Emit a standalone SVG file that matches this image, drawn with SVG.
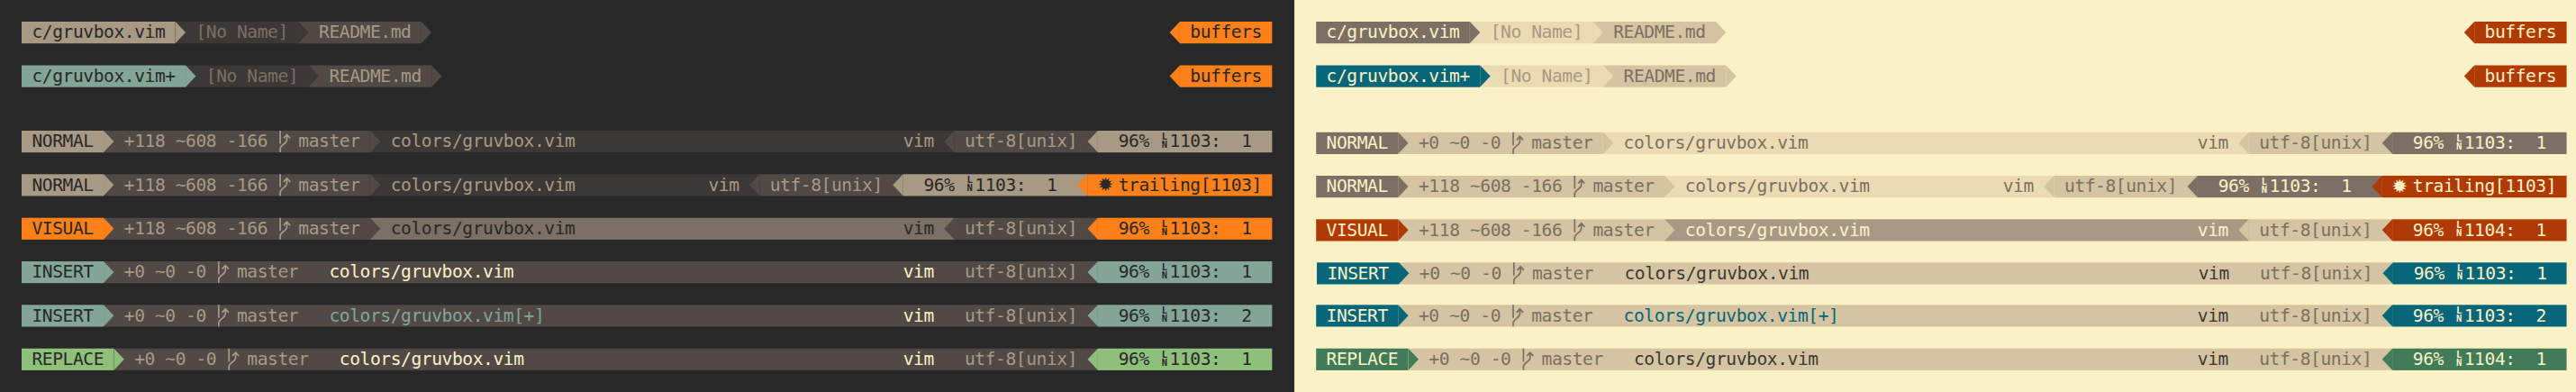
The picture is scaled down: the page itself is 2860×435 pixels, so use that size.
<svg xmlns="http://www.w3.org/2000/svg" width="2860" height="435" viewBox="0 0 2860 435">
<style>
text{font-family:"DejaVu Sans Mono","Liberation Mono",monospace;font-size:19.6px;letter-spacing:-0.42px;white-space:pre}
text.ln{font-size:10.5px;font-weight:bold}
text.sun{font-family:"DejaVu Sans",sans-serif;font-size:21px}
.k{fill:#282828}.g1{fill:#3c3836}.g2{fill:#504945}.g3{fill:#7c6f64}.g4{fill:#a89984}.c{fill:#fbf1c7}
.o{fill:#fe8019}.b{fill:#83a598}.v{fill:#8ec07c}.e{fill:#ebdbb2}.d{fill:#d5c4a1}.r{fill:#af3a03}.t{fill:#076678}.n{fill:#427b58}
.id{stroke:#a89984}.il{stroke:#7c6f64}
</style>
<defs>
<polygon id="cr" points="0,0 11.38,12 0,24"/>
<polygon id="cl" points="11.38,0 0,12 11.38,24"/>
<g id="br" fill="none" stroke-width="1.7"><path d="M2.6 0V14.5M2.6 24V20C2.6 15.5 10 15 10 10V5M6.3 8.5L10 4.5L13.7 8.5"/></g>
</defs>
<rect width="1437.3" height="435" class="k"/>
<rect x="1437.3" width="1422.7" height="435" class="c"/>

<g id="dark-tab-1" transform="translate(24,24)">
<rect width="170.7" height="24.2" class="g4"/><rect x="170.7" width="136.56" height="24.2" class="g1"/><rect x="307.26" width="136.56" height="24.2" class="g2"/>
<use href="#cr" x="170.7" class="g4"/><use href="#cr" x="307.26" class="g1"/><use href="#cr" x="443.82" class="g2"/>
<text x="11.38" y="18.3" class="k">c/gruvbox.vim</text><text x="193.46" y="18.3" class="g3">[No Name]</text><text x="330.02" y="18.3" class="g4">README.md</text>
</g>
<g id="dark-buffers-1" transform="translate(24,24)">
<rect x="1285.94" width="102.42" height="24.2" class="o"/><use href="#cl" x="1274.56" class="o"/>
<text x="1297.32" y="18.3" class="k">buffers</text>
</g>
<g id="dark-tab-2" transform="translate(24,72.5)">
<rect width="182.08" height="24.2" class="b"/><rect x="182.08" width="136.56" height="24.2" class="g1"/><rect x="318.64" width="136.56" height="24.2" class="g2"/>
<use href="#cr" x="182.08" class="b"/><use href="#cr" x="318.64" class="g1"/><use href="#cr" x="455.2" class="g2"/>
<text x="11.38" y="18.3" class="k">c/gruvbox.vim+</text><text x="204.84" y="18.3" class="g3">[No Name]</text><text x="341.4" y="18.3" class="g4">README.md</text>
</g>
<g id="dark-buffers-2" transform="translate(24,72.5)">
<rect x="1285.94" width="102.42" height="24.2" class="o"/><use href="#cl" x="1274.56" class="o"/>
<text x="1297.32" y="18.3" class="k">buffers</text>
</g>

<g id="dark-normal-1" transform="translate(24,145)">
<rect width="91.04" height="24.2" class="g4"/><rect x="91.04" width="295.88" height="24.2" class="g2"/><rect x="386.92" width="648.66" height="24.2" class="g1"/><rect x="1035.58" width="159.32" height="24.2" class="g2"/><rect x="1194.9" width="193.46" height="24.2" class="g4"/>
<use href="#cr" x="91.04" class="g4"/><use href="#cr" x="386.92" class="g2"/><use href="#cl" x="1024.2" class="g2"/><use href="#cl" x="1183.52" class="g4"/>
<text x="11.38" y="18.3" class="k">NORMAL</text><text x="113.8" y="18.3" class="g4">+118 ~608 -166</text><use href="#br" x="284.5" class="id"/><text x="307.26" y="18.3" class="g4">master</text><text x="409.68" y="18.3" class="g4">colors/gruvbox.vim</text>
<text x="978.68" y="18.3" class="g4">vim</text><text x="1046.96" y="18.3" class="g4">utf-8[unix]</text><text x="1217.66" y="18.3" class="k">96%</text><text x="1265.8" y="10" class="ln k">L</text><text x="1265.8" y="19" class="ln k">N</text><text x="1274.56" y="18.3" class="k">1103:  1</text>
</g>
<g id="dark-normal-2" transform="translate(24,193.3)">
<rect width="91.04" height="24.2" class="g4"/><rect x="91.04" width="295.88" height="24.2" class="g2"/><rect x="386.92" width="432.44" height="24.2" class="g1"/><rect x="819.36" width="159.32" height="24.2" class="g2"/><rect x="978.68" width="204.84" height="24.2" class="g4"/><rect x="1183.52" width="204.84" height="24.2" class="o"/>
<use href="#cr" x="91.04" class="g4"/><use href="#cr" x="386.92" class="g2"/><use href="#cl" x="807.98" class="g2"/><use href="#cl" x="967.3" class="g4"/><use href="#cl" x="1172.14" class="o"/>
<text x="11.38" y="18.3" class="k">NORMAL</text><text x="113.8" y="18.3" class="g4">+118 ~608 -166</text><use href="#br" x="284.5" class="id"/><text x="307.26" y="18.3" class="g4">master</text><text x="409.68" y="18.3" class="g4">colors/gruvbox.vim</text>
<text x="762.46" y="18.3" class="g4">vim</text><text x="830.74" y="18.3" class="g4">utf-8[unix]</text><text x="1001.44" y="18.3" class="k">96%</text><text x="1049.6" y="10" class="ln k">L</text><text x="1049.6" y="19" class="ln k">N</text><text x="1058.34" y="18.3" class="k">1103:  1</text><text x="1194.4" y="19" class="sun k">✹</text><text x="1217.66" y="18.3" class="k">trailing[1103]</text>
</g>
<g id="dark-visual" transform="translate(24,241.7)">
<rect width="91.04" height="24.2" class="o"/><rect x="91.04" width="295.88" height="24.2" class="g2"/><rect x="386.92" width="648.66" height="24.2" class="g3"/><rect x="1035.58" width="159.32" height="24.2" class="g2"/><rect x="1194.9" width="193.46" height="24.2" class="o"/>
<use href="#cr" x="91.04" class="o"/><use href="#cr" x="386.92" class="g2"/><use href="#cl" x="1024.2" class="g2"/><use href="#cl" x="1183.52" class="o"/>
<text x="11.38" y="18.3" class="k">VISUAL</text><text x="113.8" y="18.3" class="g4">+118 ~608 -166</text><use href="#br" x="284.5" class="id"/><text x="307.26" y="18.3" class="g4">master</text><text x="409.68" y="18.3" class="k">colors/gruvbox.vim</text>
<text x="978.68" y="18.3" class="k">vim</text><text x="1046.96" y="18.3" class="g4">utf-8[unix]</text><text x="1217.66" y="18.3" class="k">96%</text><text x="1265.8" y="10" class="ln k">L</text><text x="1265.8" y="19" class="ln k">N</text><text x="1274.56" y="18.3" class="k">1103:  1</text>
</g>
<g id="dark-insert-1" transform="translate(24,290)">
<rect width="91.04" height="24.2" class="b"/><rect x="91.04" width="1103.86" height="24.2" class="g2"/><rect x="1194.9" width="193.46" height="24.2" class="b"/>
<use href="#cr" x="91.04" class="b"/><use href="#cl" x="1183.52" class="b"/>
<text x="11.38" y="18.3" class="k">INSERT</text><text x="113.8" y="18.3" class="g4">+0 ~0 -0</text><use href="#br" x="216.22" class="id"/><text x="238.98" y="18.3" class="g4">master</text><text x="341.4" y="18.3" class="c">colors/gruvbox.vim</text>
<text x="978.68" y="18.3" class="c">vim</text><text x="1046.96" y="18.3" class="g4">utf-8[unix]</text><text x="1217.66" y="18.3" class="k">96%</text><text x="1265.8" y="10" class="ln k">L</text><text x="1265.8" y="19" class="ln k">N</text><text x="1274.56" y="18.3" class="k">1103:  1</text>
</g>
<g id="dark-insert-2" transform="translate(24,338.3)">
<rect width="91.04" height="24.2" class="b"/><rect x="91.04" width="1103.86" height="24.2" class="g2"/><rect x="1194.9" width="193.46" height="24.2" class="b"/>
<use href="#cr" x="91.04" class="b"/><use href="#cl" x="1183.52" class="b"/>
<text x="11.38" y="18.3" class="k">INSERT</text><text x="113.8" y="18.3" class="g4">+0 ~0 -0</text><use href="#br" x="216.22" class="id"/><text x="238.98" y="18.3" class="g4">master</text><text x="341.4" y="18.3" class="b">colors/gruvbox.vim[+]</text>
<text x="978.68" y="18.3" class="c">vim</text><text x="1046.96" y="18.3" class="g4">utf-8[unix]</text><text x="1217.66" y="18.3" class="k">96%</text><text x="1265.8" y="10" class="ln k">L</text><text x="1265.8" y="19" class="ln k">N</text><text x="1274.56" y="18.3" class="k">1103:  2</text>
</g>
<g id="dark-replace" transform="translate(24,386.7)">
<rect width="102.42" height="24.2" class="v"/><rect x="102.42" width="1092.48" height="24.2" class="g2"/><rect x="1194.9" width="193.46" height="24.2" class="v"/>
<use href="#cr" x="102.42" class="v"/><use href="#cl" x="1183.52" class="v"/>
<text x="11.38" y="18.3" class="k">REPLACE</text><text x="125.18" y="18.3" class="g4">+0 ~0 -0</text><use href="#br" x="227.6" class="id"/><text x="250.36" y="18.3" class="g4">master</text><text x="352.78" y="18.3" class="c">colors/gruvbox.vim</text>
<text x="978.68" y="18.3" class="c">vim</text><text x="1046.96" y="18.3" class="g4">utf-8[unix]</text><text x="1217.66" y="18.3" class="k">96%</text><text x="1265.8" y="10" class="ln k">L</text><text x="1265.8" y="19" class="ln k">N</text><text x="1274.56" y="18.3" class="k">1103:  1</text>
</g>

<g id="light-tab-1" transform="translate(1461.2,24)">
<rect width="170.7" height="24.2" class="g3"/><rect x="170.7" width="136.56" height="24.2" class="e"/><rect x="307.26" width="136.56" height="24.2" class="d"/>
<use href="#cr" x="170.7" class="g3"/><use href="#cr" x="307.26" class="e"/><use href="#cr" x="443.82" class="d"/>
<text x="11.38" y="18.3" class="c">c/gruvbox.vim</text><text x="193.46" y="18.3" class="g4">[No Name]</text><text x="330.02" y="18.3" class="g3">README.md</text>
</g>
<g id="light-buffers-1" transform="translate(1461.2,24)">
<rect x="1285.94" width="102.42" height="24.2" class="r"/><use href="#cl" x="1274.56" class="r"/>
<text x="1297.32" y="18.3" class="c">buffers</text>
</g>
<g id="light-tab-2" transform="translate(1461.2,72.5)">
<rect width="182.08" height="24.2" class="t"/><rect x="182.08" width="136.56" height="24.2" class="e"/><rect x="318.64" width="136.56" height="24.2" class="d"/>
<use href="#cr" x="182.08" class="t"/><use href="#cr" x="318.64" class="e"/><use href="#cr" x="455.2" class="d"/>
<text x="11.38" y="18.3" class="c">c/gruvbox.vim+</text><text x="204.84" y="18.3" class="g4">[No Name]</text><text x="341.4" y="18.3" class="g3">README.md</text>
</g>
<g id="light-buffers-2" transform="translate(1461.2,72.5)">
<rect x="1285.94" width="102.42" height="24.2" class="r"/><use href="#cl" x="1274.56" class="r"/>
<text x="1297.32" y="18.3" class="c">buffers</text>
</g>

<g id="light-normal-1" transform="translate(1461.2,146.8)">
<rect width="91.04" height="24.2" class="g3"/><rect x="91.04" width="227.6" height="24.2" class="d"/><rect x="318.64" width="716.94" height="24.2" class="e"/><rect x="1035.58" width="159.32" height="24.2" class="d"/><rect x="1194.9" width="193.46" height="24.2" class="g3"/>
<use href="#cr" x="91.04" class="g3"/><use href="#cr" x="318.64" class="d"/><use href="#cl" x="1024.2" class="d"/><use href="#cl" x="1183.52" class="g3"/>
<text x="11.38" y="18.3" class="c">NORMAL</text><text x="113.8" y="18.3" class="g3">+0 ~0 -0</text><use href="#br" x="216.22" class="il"/><text x="238.98" y="18.3" class="g3">master</text><text x="341.4" y="18.3" class="g3">colors/gruvbox.vim</text>
<text x="978.68" y="18.3" class="g3">vim</text><text x="1046.96" y="18.3" class="g3">utf-8[unix]</text><text x="1217.66" y="18.3" class="c">96%</text><text x="1265.8" y="10" class="ln c">L</text><text x="1265.8" y="19" class="ln c">N</text><text x="1274.56" y="18.3" class="c">1103:  1</text>
</g>
<g id="light-normal-2" transform="translate(1461.2,195)">
<rect width="91.04" height="24.2" class="g3"/><rect x="91.04" width="295.88" height="24.2" class="d"/><rect x="386.92" width="432.44" height="24.2" class="e"/><rect x="819.36" width="159.32" height="24.2" class="d"/><rect x="978.68" width="204.84" height="24.2" class="g3"/><rect x="1183.52" width="204.84" height="24.2" class="r"/>
<use href="#cr" x="91.04" class="g3"/><use href="#cr" x="386.92" class="d"/><use href="#cl" x="807.98" class="d"/><use href="#cl" x="967.3" class="g3"/><use href="#cl" x="1172.14" class="r"/>
<text x="11.38" y="18.3" class="c">NORMAL</text><text x="113.8" y="18.3" class="g3">+118 ~608 -166</text><use href="#br" x="284.5" class="il"/><text x="307.26" y="18.3" class="g3">master</text><text x="409.68" y="18.3" class="g3">colors/gruvbox.vim</text>
<text x="762.46" y="18.3" class="g3">vim</text><text x="830.74" y="18.3" class="g3">utf-8[unix]</text><text x="1001.44" y="18.3" class="c">96%</text><text x="1049.6" y="10" class="ln c">L</text><text x="1049.6" y="19" class="ln c">N</text><text x="1058.34" y="18.3" class="c">1103:  1</text><text x="1194.4" y="19" class="sun c">✹</text><text x="1217.66" y="18.3" class="c">trailing[1103]</text>
</g>
<g id="light-visual" transform="translate(1461.2,243.3)">
<rect width="91.04" height="24.2" class="r"/><rect x="91.04" width="295.88" height="24.2" class="d"/><rect x="386.92" width="648.66" height="24.2" class="g4"/><rect x="1035.58" width="159.32" height="24.2" class="d"/><rect x="1194.9" width="193.46" height="24.2" class="r"/>
<use href="#cr" x="91.04" class="r"/><use href="#cr" x="386.92" class="d"/><use href="#cl" x="1024.2" class="d"/><use href="#cl" x="1183.52" class="r"/>
<text x="11.38" y="18.3" class="c">VISUAL</text><text x="113.8" y="18.3" class="g3">+118 ~608 -166</text><use href="#br" x="284.5" class="il"/><text x="307.26" y="18.3" class="g3">master</text><text x="409.68" y="18.3" class="c">colors/gruvbox.vim</text>
<text x="978.68" y="18.3" class="c">vim</text><text x="1046.96" y="18.3" class="g3">utf-8[unix]</text><text x="1217.66" y="18.3" class="c">96%</text><text x="1265.8" y="10" class="ln c">L</text><text x="1265.8" y="19" class="ln c">N</text><text x="1274.56" y="18.3" class="c">1104:  1</text>
</g>
<g id="light-insert-1" transform="translate(1462,291.3)">
<rect width="91.04" height="24.2" class="t"/><rect x="91.04" width="1103.86" height="24.2" class="d"/><rect x="1194.9" width="192.66" height="24.2" class="t"/>
<use href="#cr" x="91.04" class="t"/><use href="#cl" x="1183.52" class="t"/>
<text x="11.38" y="18.3" class="c">INSERT</text><text x="113.8" y="18.3" class="g3">+0 ~0 -0</text><use href="#br" x="216.22" class="il"/><text x="238.98" y="18.3" class="g3">master</text><text x="341.4" y="18.3" class="g1">colors/gruvbox.vim</text>
<text x="978.68" y="18.3" class="g1">vim</text><text x="1046.96" y="18.3" class="g3">utf-8[unix]</text><text x="1217.66" y="18.3" class="c">96%</text><text x="1265.8" y="10" class="ln c">L</text><text x="1265.8" y="19" class="ln c">N</text><text x="1274.56" y="18.3" class="c">1103:  1</text>
</g>
<g id="light-insert-2" transform="translate(1461.2,338.3)">
<rect width="91.04" height="24.2" class="t"/><rect x="91.04" width="1103.86" height="24.2" class="d"/><rect x="1194.9" width="193.46" height="24.2" class="t"/>
<use href="#cr" x="91.04" class="t"/><use href="#cl" x="1183.52" class="t"/>
<text x="11.38" y="18.3" class="c">INSERT</text><text x="113.8" y="18.3" class="g3">+0 ~0 -0</text><use href="#br" x="216.22" class="il"/><text x="238.98" y="18.3" class="g3">master</text><text x="341.4" y="18.3" class="t">colors/gruvbox.vim[+]</text>
<text x="978.68" y="18.3" class="g1">vim</text><text x="1046.96" y="18.3" class="g3">utf-8[unix]</text><text x="1217.66" y="18.3" class="c">96%</text><text x="1265.8" y="10" class="ln c">L</text><text x="1265.8" y="19" class="ln c">N</text><text x="1274.56" y="18.3" class="c">1103:  2</text>
</g>
<g id="light-replace" transform="translate(1461.2,386.7)">
<rect width="102.42" height="24.2" class="n"/><rect x="102.42" width="1092.48" height="24.2" class="d"/><rect x="1194.9" width="193.46" height="24.2" class="n"/>
<use href="#cr" x="102.42" class="n"/><use href="#cl" x="1183.52" class="n"/>
<text x="11.38" y="18.3" class="c">REPLACE</text><text x="125.18" y="18.3" class="g3">+0 ~0 -0</text><use href="#br" x="227.6" class="il"/><text x="250.36" y="18.3" class="g3">master</text><text x="352.78" y="18.3" class="g1">colors/gruvbox.vim</text>
<text x="978.68" y="18.3" class="g1">vim</text><text x="1046.96" y="18.3" class="g3">utf-8[unix]</text><text x="1217.66" y="18.3" class="c">96%</text><text x="1265.8" y="10" class="ln c">L</text><text x="1265.8" y="19" class="ln c">N</text><text x="1274.56" y="18.3" class="c">1104:  1</text>
</g>
</svg>
